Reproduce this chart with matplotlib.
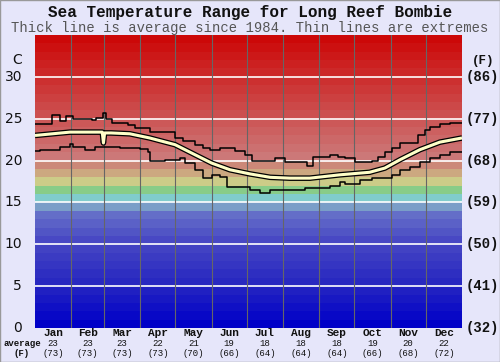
import numpy as np
import matplotlib.pyplot as plt
from matplotlib.patches import Rectangle

# data (day of year, deg C)
MONTHS = ["Jan", "Feb", "Mar", "Apr", "May", "Jun", "Jul", "Aug", "Sep", "Oct", "Nov", "Dec"]
MONTH_AVG_C = [23, 23, 23, 22, 21, 19, 18, 18, 18, 19, 20, 22]
MONTH_AVG_F = [73, 73, 73, 73, 70, 66, 64, 64, 64, 66, 68, 72]
MONTH_DAYS = [31, 28, 31, 30, 31, 30, 31, 31, 30, 31, 30, 31]

MAX_DAY = [0, 14.5, 21, 26.5, 32.5, 48.7, 52, 58, 60.7, 66, 79.5, 85.5, 98, 119.7, 126.5,
           137, 143.6, 149.6, 158, 171, 179.5, 185.5, 205, 213.7, 232.5, 237.6, 252, 259,
           265, 273.5, 288, 293, 299, 305, 312, 327, 333, 337.6, 346, 354.7, 365]
MAX_C = [24.4, 25.4, 24.7, 25.3, 25.0, 24.8, 25.1, 25.7, 25.0, 24.5, 24.2, 23.9, 23.4, 22.7, 22.3,
         21.9, 21.5, 21.3, 21.5, 21.1, 20.7, 20.0, 20.3, 19.8, 19.3, 20.4, 20.7, 20.4,
         20.3, 19.8, 20.0, 20.4, 21.0, 21.5, 22.1, 23.1, 23.7, 24.0, 24.4, 24.5, 24.5]

MIN_DAY = [0, 4, 21, 30, 32.5, 42.7, 51, 72.6, 89.7, 96.6, 98.3, 111, 124, 128, 136.8,
           143.6, 151, 158, 164, 183.8, 192, 201, 230.8, 252, 260.7, 265, 277.8, 288,
           305, 312, 320.5, 329, 337.6, 346, 354.7, 365]
MIN_C = [21.1, 21.3, 21.6, 22.0, 21.6, 21.3, 21.6, 21.5, 21.4, 21.0, 19.9, 20.1, 20.3, 19.7, 18.9,
         17.9, 18.3, 18.0, 16.8, 16.5, 16.1, 16.5, 16.7, 17.0, 17.4, 17.2, 17.7, 17.9,
         18.3, 18.9, 19.2, 19.8, 20.3, 20.7, 21.0, 21.0]

AVG_DAY = [0, 15, 30, 45, 57.5, 58.5, 59.5, 65, 81, 98, 119.7, 141, 151, 166.7, 184, 201,
           218, 235, 260.7, 286, 299, 312, 329, 346, 365]
AVG_C = [23.0, 23.2, 23.4, 23.4, 23.4, 22.1, 23.3, 23.3, 23.2, 22.7, 21.9, 20.4, 19.7, 18.9,
         18.4, 18.0, 17.9, 17.9, 18.3, 18.6, 19.1, 20.1, 21.3, 22.2, 22.7]

BG = "#e6e6fa"

fig = plt.figure(figsize=(5, 3.62), dpi=100, facecolor=BG)
ax = fig.add_axes([35 / 500, 34 / 362, 427 / 500, 293 / 362])
ax.set_facecolor(BG)

# coloured 1-degree bands
anchors_t = [0, 5, 10, 13, 14, 15, 16, 17, 18, 19, 20, 30, 35]
anchors_rgb = np.array([(0, 0, 200), (40, 40, 192), (72, 72, 196), (100, 110, 200),
                        (122, 158, 200), (128, 204, 204), (136, 204, 136), (204, 204, 136),
                        (204, 168, 128), (204, 136, 120), (204, 120, 120), (204, 40, 40),
                        (204, 0, 0)]) / 255.0
for t in range(35):
    rgb = [np.interp(t, anchors_t, anchors_rgb[:, k]) for k in range(3)]
    ax.axhspan(t, t + 1, color=rgb, lw=0, zorder=0)

for c in range(5, 35, 5):
    ax.axhline(c, color="white", lw=1.2, zorder=1)

bounds = np.cumsum([0] + MONTH_DAYS)
for b in bounds[1:-1]:
    ax.axvline(b, color="#666666", lw=0.8, zorder=1)

ax.step(MAX_DAY, MAX_C, where="post", color="black", lw=1.1, zorder=3)
ax.step(MIN_DAY, MIN_C, where="post", color="black", lw=1.1, zorder=3)
ax.plot(AVG_DAY, AVG_C, color="black", lw=4.0, zorder=4, solid_capstyle="butt")
ax.plot(AVG_DAY, AVG_C, color="#ffffc8", lw=2.2, zorder=5, solid_capstyle="butt")

ax.set_xlim(0, 365)
ax.set_ylim(0, 35)
ax.set_xticks([])
ax.set_yticks([])
for s in ax.spines.values():
    s.set_visible(False)

# left celsius labels
for c in range(0, 35, 5):
    ax.text(-13 / 427 * 365, c, str(c), ha="right", va="center", fontsize=10,
            family="DejaVu Sans", color="#111111", clip_on=False)
ax.text(-13 / 427 * 365, 32, "C", ha="right", va="center", fontsize=10,
        family="DejaVu Sans", color="#111111", clip_on=False)

# right fahrenheit labels
for c in range(0, 35, 5):
    f = int(round(c * 9 / 5 + 32))
    ax.text(365 + 4 / 427 * 365, c, "(%d)" % f, ha="left", va="center", fontsize=10,
            family="Liberation Mono", weight="bold", color="#111111", clip_on=False)
ax.text(365 + 10 / 427 * 365, 31.9, "(F)", ha="left", va="center", fontsize=9,
        family="Liberation Mono", weight="bold", color="#111111", clip_on=False)

# month labels and averages
mids = (bounds[:-1] + bounds[1:]) / 2
for m, name, ac, af in zip(mids, MONTHS, MONTH_AVG_C, MONTH_AVG_F):
    xf = (35 + m / 365 * 427) / 500
    fig.text(xf, 1 - 333 / 362, name, ha="center", va="center",
             fontsize=8, family="Liberation Mono", weight="bold", color="#111111")
    fig.text(xf, 1 - 343.5 / 362, str(ac), ha="center", va="center",
             fontsize=6.5, family="Liberation Mono", color="#111111")
    fig.text(xf, 1 - 353 / 362, "(%d)" % af, ha="center", va="center",
             fontsize=6.5, family="Liberation Mono", color="#111111")
fig.text(22 / 500, 1 - 343.5 / 362, "average", ha="center", va="center", fontsize=6.5,
         family="Liberation Mono", weight="bold", color="#111111")
fig.text(22 / 500, 1 - 353 / 362, "(F)", ha="center", va="center", fontsize=6.5,
         family="Liberation Mono", weight="bold", color="#111111")

fig.text(0.5, 1 - 13 / 362, "Sea Temperature Range for Long Reef Bombie", ha="center",
         va="center", fontsize=11.5, family="Liberation Mono", weight="bold", color="#111111")
fig.text(0.5, 1 - 28 / 362, "Thick line is average since 1984. Thin lines are extremes",
         ha="center", va="center", fontsize=10, family="Liberation Mono", color="#555555")

fig.patches.append(Rectangle((0, 0), 1, 1, transform=fig.transFigure, fill=False,
                             edgecolor="#999999", lw=1))

fig.savefig("out.png", dpi=100, facecolor=BG)
